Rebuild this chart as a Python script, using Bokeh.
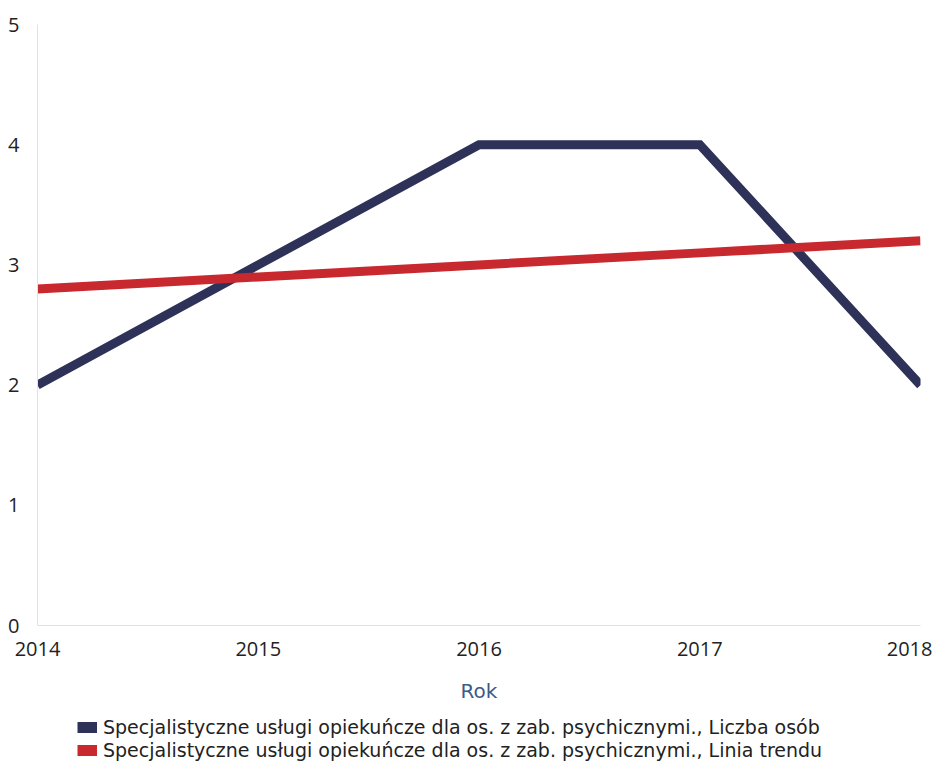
from bokeh.plotting import figure
from bokeh.models import Range1d, Legend, LegendItem, FixedTicker
from bokeh.layouts import column
from bokeh.embed import file_html
from bokeh.resources import INLINE

years = [2014, 2015, 2016, 2017, 2018]
liczba_osob = [2, 3, 4, 4, 2]
linia_trendu = [2.8, 2.9, 3.0, 3.1, 3.2]
y_ticks = [0, 1, 2, 3, 4, 5]
series_names = [
    "Specjalistyczne usługi opiekuńcze dla os. z zab. psychicznymi., Liczba osób",
    "Specjalistyczne usługi opiekuńcze dla os. z zab. psychicznymi., Linia trendu",
]
navy = "#2e3158"
red = "#c8292e"

p = figure(width=932, height=712, output_backend="svg", toolbar_location=None,
           x_range=Range1d(2014, 2018), y_range=Range1d(0, 5),
           min_border_left=37, min_border_right=12, min_border_top=24, min_border_bottom=87)
p.outline_line_color = None
p.grid.visible = False
p.background_fill_color = "white"

r1 = p.line(years, liczba_osob, line_color=navy, line_width=9, line_join="miter")
r2 = p.line(years, linia_trendu, line_color=red, line_width=9)

for ax in (p.xaxis[0], p.yaxis[0]):
    ax.axis_line_color = "#e4dfea"
    ax.axis_line_width = 1
    ax.major_tick_line_color = None
    ax.minor_tick_line_color = None
    ax.major_label_text_font = "Open Sans"
    ax.major_label_text_font_size = "20px"
    ax.major_label_text_color = "#222222"

p.yaxis.ticker = FixedTicker(ticks=y_ticks)
p.xaxis.ticker = FixedTicker(ticks=years)
p.yaxis.major_label_standoff = 12
p.xaxis.major_label_standoff = 10
p.xaxis.axis_label = "Rok"
p.xaxis.axis_label_text_font = "DejaVu Sans"
p.xaxis.axis_label_text_font_style = "normal"
p.xaxis.axis_label_text_font_size = "20px"
p.xaxis.axis_label_text_color = "#3d5a8a"
p.xaxis.axis_label_standoff = 20

# legend in its own small figure below the chart
lg = figure(width=932, height=49, output_backend="svg", toolbar_location=None,
            x_range=Range1d(0, 1), y_range=Range1d(0, 1),
            min_border_left=0, min_border_right=0, min_border_top=0, min_border_bottom=0)
lg.axis.visible = False
lg.grid.visible = False
lg.outline_line_color = None
# legend-only renderers: their data lie outside this small figure's range
g1 = lg.line(years, liczba_osob, line_color=navy, line_width=11)
g2 = lg.line(years, linia_trendu, line_color=red, line_width=11)
legend = Legend(items=[LegendItem(label=series_names[0], renderers=[g1]),
                       LegendItem(label=series_names[1], renderers=[g2])],
                location=(40, 0), orientation="vertical",
                label_text_font="DejaVu Sans", label_text_font_size="19px",
                label_text_color="#222222", glyph_width=20, glyph_height=22,
                label_standoff=6, spacing=1, padding=0, margin=0,
                label_height=22, border_line_color=None, background_fill_alpha=0)
lg.add_layout(legend)

layout = column(p, lg, spacing=0)
open("out.html", "w").write(file_html(layout, INLINE))
